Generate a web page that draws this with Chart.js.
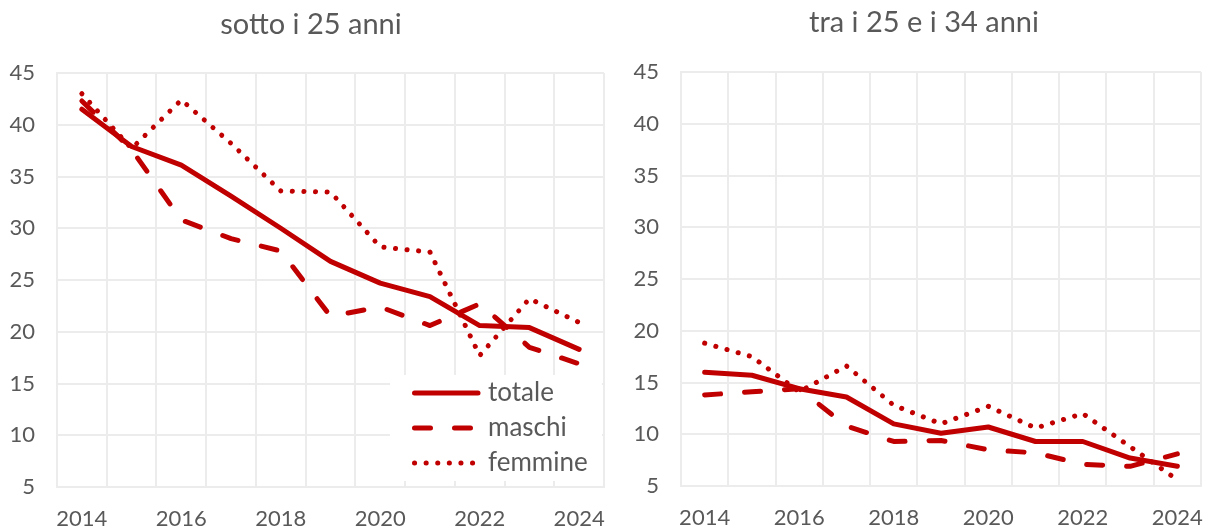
<!DOCTYPE html>
<html>
<head>
<meta charset="utf-8">
<script src="https://cdn.jsdelivr.net/npm/chart.js@4"></script>
<style>
  html, body { margin: 0; padding: 0; background: #fff; }
  .panel { position: absolute; top: 0; height: 531px; }
  #left { left: 0; width: 607px; }
  #right { left: 607px; width: 606px; }
</style>
</head>
<body>
<div class="panel" id="left"><canvas id="chartLeft"></canvas></div>
<div class="panel" id="right"><canvas id="chartRight"></canvas></div>
<script>
const years = ['2014', '2015', '2016', '2017', '2018', '2019', '2020', '2021', '2022', '2023', '2024'];
const yTicks = [5, 10, 15, 20, 25, 30, 35, 40, 45];

// sotto i 25 anni
const sotto25Totale  = [41.5, 37.9, 36.1, 33.1, 30.0, 26.8, 24.7, 23.4, 20.6, 20.4, 18.3];
const sotto25Maschi  = [42.3, 37.6, 30.8, 29.0, 27.8, 21.5, 22.4, 20.6, 22.7, 18.5, 16.9];
const sotto25Femmine = [43.0, 37.7, 42.4, 38.2, 33.6, 33.5, 28.2, 27.7, 17.7, 23.2, 20.9];

// tra i 25 e i 34 anni
const tra25e34Totale  = [16.0, 15.7, 14.4, 13.6, 11.0, 10.1, 10.7, 9.3, 9.3, 7.7, 6.9];
const tra25e34Maschi  = [13.8, 14.1, 14.4, 10.8, 9.3, 9.4, 8.5, 8.2, 7.1, 6.9, 8.1];
const tra25e34Femmine = [18.8, 17.5, 14.1, 16.6, 12.8, 11.0, 12.7, 10.6, 12.0, 8.8, 5.6];

const seriesNames = ['totale', 'maschi', 'femmine'];

const RED = '#c00000';
const GREY_TEXT = '#595959';
const GRID = '#ececec';
const FONT = 'Lato, "DejaVu Sans", sans-serif';
const dashStyles = [[], [16, 24], [0.1, 11.5]];

function makeDatasets(values) {
    return values.map(function(v, i) {
        return {
            label: seriesNames[i],
            data: v,
            borderColor: RED,
            backgroundColor: RED,
            borderWidth: 5,
            borderDash: dashStyles[i],
            borderCapStyle: 'round',
            borderJoinStyle: 'round',
            pointRadius: 0,
            tension: 0,
            fill: false
        };
    });
}

function titlePlugin(text, x, y) {
    return {
        id: 'panelTitle',
        afterDraw: function(chart) {
            const ctx = chart.ctx;
            ctx.save();
            ctx.font = '29px ' + FONT;
            ctx.fillStyle = GREY_TEXT;
            ctx.textAlign = 'center';
            ctx.textBaseline = 'middle';
            ctx.fillText(text, x, y);
            ctx.restore();
        }
    };
}

// legend drawn inside the plot, bottom right of the left panel
const insideLegend = {
    id: 'insideLegend',
    afterDatasetsDraw: function(chart) {
        const ctx = chart.ctx;
        ctx.save();
        ctx.fillStyle = '#ffffff';
        ctx.fillRect(390, 375, 212, 106);
        const rows = [393, 428, 463];
        chart.data.datasets.forEach(function(ds, i) {
            ctx.beginPath();
            ctx.strokeStyle = ds.borderColor;
            ctx.lineWidth = ds.borderWidth;
            ctx.lineCap = 'round';
            ctx.setLineDash(ds.borderDash);
            ctx.moveTo(414.5, rows[i]);
            ctx.lineTo(478, rows[i]);
            ctx.stroke();
            ctx.setLineDash([]);
            ctx.font = '26px ' + FONT;
            ctx.fillStyle = GREY_TEXT;
            ctx.textAlign = 'left';
            ctx.textBaseline = 'middle';
            ctx.fillText(ds.label, 488, rows[i]);
        });
        ctx.restore();
    }
};

function makeOptions(yWidth, padRight, padTop, xHeight) {
    return {
        responsive: true,
        maintainAspectRatio: false,
        animation: false,
        layout: { padding: { left: 0, right: padRight, top: padTop, bottom: 0 } },
        plugins: {
            legend: { display: false },
            title: { display: false },
            tooltip: { enabled: false }
        },
        scales: {
            x: {
                type: 'category',
                offset: true,
                grid: { offset: true, color: GRID, lineWidth: 2, drawTicks: false },
                border: { color: GRID, width: 2 },
                ticks: {
                    autoSkip: false,
                    maxRotation: 0,
                    padding: 19,
                    color: GREY_TEXT,
                    font: { family: FONT, size: 22 },
                    callback: function(val, i) {
                        return i % 2 === 0 ? this.getLabelForValue(val) : '';
                    }
                },
                afterFit: function(scale) {
                    scale.height = xHeight;
                    scale.paddingLeft = 0;
                    scale.paddingRight = 0;
                }
            },
            y: {
                min: yTicks[0],
                max: yTicks[yTicks.length - 1],
                grid: { color: GRID, lineWidth: 2, drawTicks: false },
                border: { color: GRID, width: 2 },
                ticks: {
                    stepSize: 5,
                    padding: 22,
                    color: GREY_TEXT,
                    font: { family: FONT, size: 22 }
                },
                afterFit: function(scale) {
                    scale.width = yWidth;
                    scale.paddingTop = 0;
                    scale.paddingBottom = 0;
                }
            }
        }
    };
}

new Chart(document.getElementById('chartLeft').getContext('2d'), {
    type: 'line',
    data: {
        labels: years,
        datasets: makeDatasets([sotto25Totale, sotto25Maschi, sotto25Femmine])
    },
    options: makeOptions(57, 3, 73, 44),
    plugins: [titlePlugin('sotto i 25 anni', 311, 25), insideLegend]
});

new Chart(document.getElementById('chartRight').getContext('2d'), {
    type: 'line',
    data: {
        labels: years,
        datasets: makeDatasets([tra25e34Totale, tra25e34Maschi, tra25e34Femmine])
    },
    options: makeOptions(74, 12, 72, 45),
    plugins: [titlePlugin('tra i 25 e i 34 anni', 317, 23)]
});
</script>
</body>
</html>
